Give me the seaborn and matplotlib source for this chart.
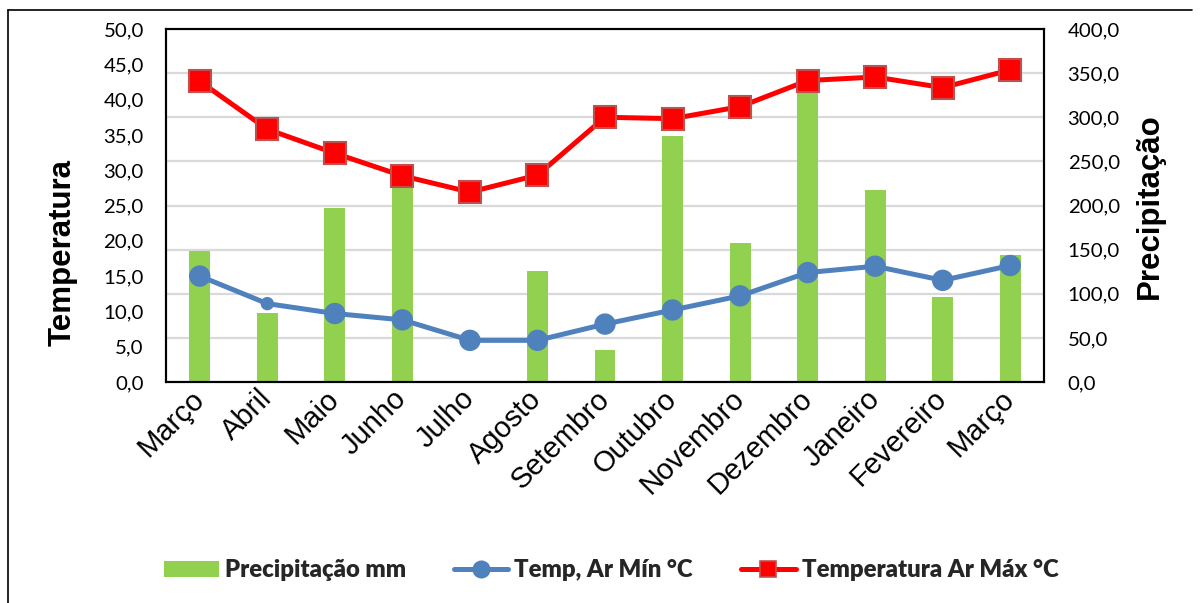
import matplotlib
matplotlib.use("Agg")
import matplotlib.pyplot as plt
from matplotlib.lines import Line2D
from matplotlib.patches import Patch
from matplotlib.ticker import FuncFormatter, MultipleLocator
import numpy as np
import pandas as pd
import seaborn as sns

# ---- data -------------------------------------------------------------
months = ["Março", "Abril", "Maio", "Junho", "Julho", "Agosto", "Setembro",
          "Outubro", "Novembro", "Dezembro", "Janeiro", "Fevereiro", "Março"]
precip_mm = [149, 78, 197, 225, 0, 126, 36, 279, 158, 335, 218, 96, 144]
temp_min = [15.0, 11.1, 9.7, 8.8, 5.9, 5.9, 8.2, 10.2, 12.2, 15.5, 16.4, 14.4, 16.5]
temp_max = [42.6, 35.8, 32.4, 29.2, 26.9, 29.3, 37.5, 37.3, 39.0, 42.7, 43.2, 41.7, 44.2]

# ---- style ------------------------------------------------------------
GREEN = "#92D050"
BLUE = "#4F81BD"
RED = "#FF0000"
RED_EDGE = "#C0504D"
GRID = "#D9D9D9"
min_marker_pts = [14.4, 8.6, 14.4, 14.4, 14.4, 14.4, 14.4, 14.4, 14.4, 14.4, 14.4, 14.4, 14.4]

sns.set_theme(style="white")
plt.rcParams["font.family"] = ["Lato", "DejaVu Sans"]

df = pd.DataFrame({
    "pos": np.arange(len(months)),
    "precip": precip_mm,
    "tmin": temp_min,
    "tmax": temp_max,
})

fig = plt.figure(figsize=(12.01, 6.03), dpi=100)
ax = fig.add_axes([166 / 1201, 1 - 382 / 603, (1044 - 166) / 1201, (382 - 29) / 603])
ax2 = ax.twinx()

# precipitation bars on the secondary (right) axis, drawn underneath
sns.barplot(data=df, x="pos", y="precip", ax=ax2, color=GREEN, width=0.31,
            saturation=1, edgecolor="none", order=list(df["pos"]))
ax2.set_ylim(0, 400)
ax2.yaxis.set_major_locator(MultipleLocator(50))
ax2.set_axisbelow(True)
ax2.grid(axis="y", color=GRID, linewidth=1.6)
ax2.grid(axis="x", visible=False)

# temperature lines on the primary (left) axis, drawn above the bars
ax.set_zorder(ax2.get_zorder() + 1)
ax.patch.set_visible(False)

sns.lineplot(data=df, x="pos", y="tmin", ax=ax, color=BLUE, linewidth=3.6,
             sort=False, zorder=3)
ax.scatter(df["pos"], df["tmin"], s=np.array(min_marker_pts) ** 2, color=BLUE,
           edgecolors=BLUE, linewidths=1, zorder=4)
sns.lineplot(data=df, x="pos", y="tmax", ax=ax, color=RED, linewidth=3.6,
             marker="s", markersize=15.5, markerfacecolor=RED,
             markeredgecolor=RED_EDGE, markeredgewidth=1.5, sort=False, zorder=5)

ax.set_xlim(-0.5, len(months) - 0.5)
ax.set_ylim(0, 50)
ax.yaxis.set_major_locator(MultipleLocator(5))

fmt = FuncFormatter(lambda v, p: f"{v:.1f}".replace(".", ","))
ax.yaxis.set_major_formatter(fmt)
ax2.yaxis.set_major_formatter(fmt)

ax.set_xticks(df["pos"])
ax.set_xticklabels(months, rotation=45, ha="right", va="center",
                   rotation_mode="anchor", fontsize=21,
                   family=["Liberation Sans", "DejaVu Sans"], color="black")
ax.tick_params(axis="x", length=0, pad=9, labelbottom=True)
ax2.tick_params(axis="x", length=0, labelbottom=False)
ax.tick_params(axis="y", length=0, pad=16, labelsize=14.7, labelcolor="black")
ax2.tick_params(axis="y", length=0, pad=17, labelsize=14.7, labelcolor="black")

ax.set_xlabel("")
ax.set_ylabel("")
ax2.set_xlabel("")
ax2.set_ylabel("")

for a in (ax, ax2):
    for s in a.spines.values():
        s.set_visible(True)
        s.set_color("black")
        s.set_linewidth(1.5)

# axis titles
fig.text(63 / 1201, 1 - 252 / 603, "Temperatura", rotation=90, ha="center",
         va="center", fontsize=22.5, fontweight="bold",
         family=["Liberation Sans", "DejaVu Sans"], color="black")
fig.text(1150 / 1201, 1 - 206 / 603, "Precipitação", rotation=90, ha="center",
         va="center", fontsize=22.5, fontweight="bold",
         family=["Liberation Sans", "DejaVu Sans"], color="black")

# legend
handles = [
    Patch(facecolor=GREEN, edgecolor="none"),
    Line2D([], [], color=BLUE, linewidth=3.6, marker="o", markersize=12,
           markerfacecolor=BLUE, markeredgecolor=BLUE),
    Line2D([], [], color=RED, linewidth=3.6, marker="s", markersize=12,
           markerfacecolor=RED, markeredgecolor=RED_EDGE, markeredgewidth=1.2),
]
labels = ["Precipitação mm", "Temp, Ar Mín °C", "Temperatura Ar Máx °C"]
fig.legend(handles, labels, loc="center", bbox_to_anchor=(611 / 1201, 1 - 570 / 603),
           ncol=3, frameon=False, handlelength=2.3, handleheight=0.65,
           handletextpad=0.25, columnspacing=2.0,
           prop={"family": ["Lato", "DejaVu Sans"], "weight": "heavy", "size": 17.2})

# outer chart frame (top and left edges)
fig.add_artist(Line2D([8 / 1201, 1192 / 1201], [1 - 10 / 603, 1 - 10 / 603],
                      transform=fig.transFigure, color="black", linewidth=1.2))
fig.add_artist(Line2D([8 / 1201, 8 / 1201], [1 - 10 / 603, 0],
                      transform=fig.transFigure, color="black", linewidth=1.2))

fig.savefig("out.png", dpi=100, facecolor="white")
